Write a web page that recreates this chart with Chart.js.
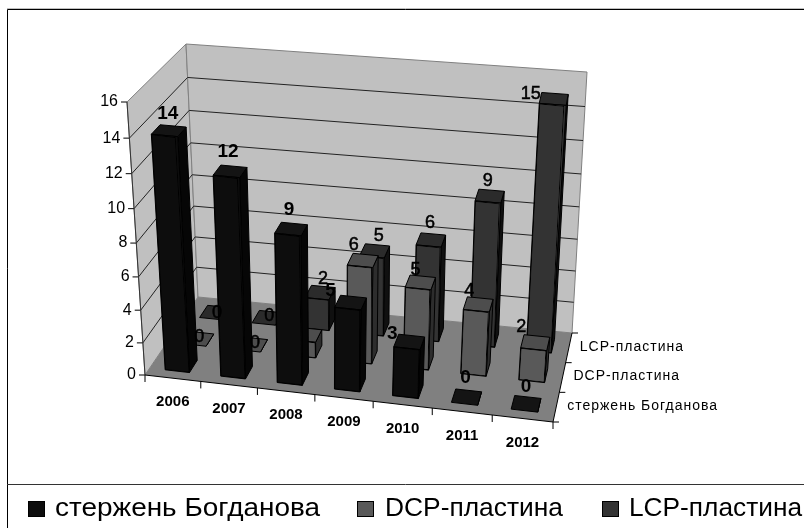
<!DOCTYPE html>
<html>
<head>
<meta charset="utf-8">
<script src="https://cdn.jsdelivr.net/npm/chart.js@4/dist/chart.umd.min.js"></script>
<style>
body { margin: 0; background: #fff; }
canvas { display: block; }
</style>
</head>
<body>
<canvas id="chart" width="804" height="528"></canvas>
<script>
const years = ['2006', '2007', '2008', '2009', '2010', '2011', '2012'];
const seriesNames = ['стержень Богданова', 'DCP-пластина', 'LCP-пластина'];
const rodValues = [14, 12, 9, 5, 3, 0, 0];
const dcpValues = [0, 0, 1, 6, 5, 4, 2];
const lcpValues = [0, 0, 2, 5, 6, 9, 15];
const yTickStep = 2;
const yMax = 16;

const frontColors = ['#0d0d0d', '#595959', '#333333'];
const topColors = ['#141414', '#4d4d4d', '#2b2b2b'];
const sideColors = ['#060606', '#2d2d2d', '#101010'];

// corners of the 3D box on the page: floor / top, front / back, left / right
const box = {
    floorFront: [[145, 375], [553, 422]],
    topFront: [[127, 102], [577, 142]],
    floorBack: [[198, 297], [572, 333]],
    topBack: [[186, 44], [587, 72]]
};
const barDepth = 0.155;
// perspective squeezes the low end of the value axis and the early years
const heightBend = 0.067;
const widthBend = 0.05;

// label tweaks per series and year, Excel does not place them evenly
// null: label lost behind the black 2008 bar in the original
const labelNudges = [
    [[-1, -2], [-2, -5], [-2, -4], [-20, 3], [-17, 7], [-1, -4], [0, -2]],
    [[1, 13], [3, 13], null, [-9, 0], [-5, 3], [-9, 2], [-14, -1]],
    [[2, 15], [2, 13], [3, 1], [4, 0], [-1, -2], [-2, 0], [-23, 10]]
];
// legend squares, text start and text width
const legendSquares = [28, 357, 602];
const legendTexts = [55, 385, 629];
const legendWidths = [265, 178, 173];

function mix(a, b, k) {
    return [a[0] + (b[0] - a[0]) * k, a[1] + (b[1] - a[1]) * k];
}

// u: along the years, v: up the value axis, t: front to back
function project(u, v, t) {
    const w = u - widthBend * u * (1 - u);
    const floor = mix(mix(box.floorFront[0], box.floorFront[1], w), mix(box.floorBack[0], box.floorBack[1], w), t);
    const top = mix(mix(box.topFront[0], box.topFront[1], w), mix(box.topBack[0], box.topBack[1], w), t);
    return mix(floor, top, v - heightBend * v * (1 - v));
}

function uOf(chart, px) {
    const a = chart.chartArea;
    return (px - a.left) / (a.right - a.left);
}

function vOf(chart, py) {
    const a = chart.chartArea;
    return (a.bottom - py) / (a.bottom - a.top);
}

function poly(ctx, pts, fill, stroke) {
    ctx.beginPath();
    pts.forEach((p, i) => (i ? ctx.lineTo(p[0], p[1]) : ctx.moveTo(p[0], p[1])));
    ctx.closePath();
    if (fill) {
        ctx.fillStyle = fill;
        ctx.fill();
    }
    if (stroke) {
        ctx.strokeStyle = stroke;
        ctx.lineWidth = 1;
        ctx.stroke();
    }
}

function segment(ctx, a, b, color, width) {
    ctx.beginPath();
    ctx.moveTo(a[0], a[1]);
    ctx.lineTo(b[0], b[1]);
    ctx.strokeStyle = color;
    ctx.lineWidth = width || 1;
    ctx.stroke();
}

class Bar3D extends Chart.BarController {
    draw() {
        const chart = this.chart;
        const ctx = chart.ctx;
        const idx = this.index;
        const t0 = (idx + 0.5) / 3 - barDepth / 2;
        const t1 = t0 + barDepth;
        this.getMeta().data.forEach((el) => {
            const u0 = uOf(chart, el.x - el.width / 2);
            const u1 = uOf(chart, el.x + el.width / 2);
            const vTop = vOf(chart, el.y);
            const vBase = vOf(chart, el.base);
            // right side and top faces
            poly(ctx, [project(u1, vBase, t0), project(u1, vBase, t1), project(u1, vTop, t1), project(u1, vTop, t0)], sideColors[idx], '#000');
            poly(ctx, [project(u0, vTop, t0), project(u1, vTop, t0), project(u1, vTop, t1), project(u0, vTop, t1)], topColors[idx], '#000');
            if (el.base - el.y < 0.5) {
                return;
            }
            // front face: the library's own bar under the local plane transform
            const bl = project(u0, vBase, t0);
            const br = project(u1, vBase, t0);
            const tl = project(u0, vTop, t0);
            const tr = project(u1, vTop, t0);
            // the top of a bar is a bit wider than its foot, fill that wedge first
            poly(ctx, [bl, br, tr, tl], frontColors[idx], '#000');
            const xs = [(br[0] - bl[0]) / el.width, (br[1] - bl[1]) / el.width];
            const h = el.base - el.y;
            const ys = [(bl[0] - tl[0]) / h, (bl[1] - tl[1]) / h];
            const left = el.x - el.width / 2;
            ctx.save();
            ctx.transform(xs[0], xs[1], ys[0], ys[1],
                tl[0] - xs[0] * left - ys[0] * el.y,
                tl[1] - xs[1] * left - ys[1] * el.y);
            el.draw(ctx, chart.chartArea);
            ctx.restore();
        });
    }
}
Bar3D.id = 'bar3d';
Bar3D.defaults = Chart.BarController.defaults;
Chart.register(Bar3D);

const framePlugin = {
    id: 'frame',
    beforeDatasetsDraw(chart) {
        const ctx = chart.ctx;
        const y = chart.scales.y;
        ctx.save();
        // outer frame and legend separator, open on the right and at the bottom
        segment(ctx, [7, 8.5], [804, 8.5], '#c0c0c0');
        segment(ctx, [7.5, 9.5], [804, 9.5], '#000');
        segment(ctx, [7.5, 9.5], [7.5, 528], '#000');
        segment(ctx, [7, 484.5], [804, 484.5], '#333');

        poly(ctx, [project(0, 0, 0), project(0, 1, 0), project(0, 1, 1), project(0, 0, 1)], '#c0c0c0', '#808080');
        poly(ctx, [project(0, 0, 1), project(0, 1, 1), project(1, 1, 1), project(1, 0, 1)], '#c0c0c0', '#808080');
        poly(ctx, [project(0, 0, 0), project(0, 0, 1), project(1, 0, 1), project(1, 0, 0)], '#808080', null);

        // gridlines over both walls, ticks and labels on the value axis
        ctx.font = '16px "Liberation Sans"';
        ctx.textAlign = 'right';
        ctx.textBaseline = 'middle';
        y.ticks.forEach((tick) => {
            const v = vOf(chart, y.getPixelForValue(tick.value));
            const a = project(0, v, 0);
            if (v > 0 && v < 1) {
                segment(ctx, a, project(0, v, 1), '#222');
                segment(ctx, project(0, v, 1), project(1, v, 1), '#222');
            }
            segment(ctx, [a[0] - 6, a[1]], a, '#000');
            ctx.fillStyle = '#000';
            ctx.fillText(tick.label, a[0] - 9, a[1]);
        });
        segment(ctx, project(0, 0, 0), project(0, 1, 0), '#333');

        // year axis
        segment(ctx, project(0, 0, 0), project(1, 0, 0), '#000');
        ctx.font = 'bold 15px "Liberation Sans"';
        ctx.textAlign = 'center';
        years.forEach((year, i) => {
            const p = project(i / years.length, 0, 0);
            segment(ctx, p, [p[0], p[1] + 7], '#000');
            const c = project((i + 0.5) / years.length, 0, 0);
            ctx.fillText(chart.scales.x.getLabelForValue(i), c[0], c[1] + 24);
        });
        const last = project(1, 0, 0);
        segment(ctx, last, [last[0], last[1] + 7], '#000');

        // depth axis
        segment(ctx, project(1, 0, 0), project(1, 0, 1), '#000');
        ctx.font = '14px "Liberation Sans"';
        ctx.textAlign = 'left';
        ctx.letterSpacing = '1px';
        seriesNames.forEach((name, i) => {
            const p = project(1, 0, i / 3);
            segment(ctx, p, [p[0] + 6, p[1]], '#000');
            const c = project(1, 0, (i + 0.5) / 3);
            ctx.fillText(name, c[0] + 11, c[1] - 1);
        });
        const end = project(1, 0, 1);
        segment(ctx, end, [end[0] + 6, end[1]], '#000');
        ctx.letterSpacing = '0px';
        ctx.restore();
    },
    afterDatasetsDraw(chart) {
        const ctx = chart.ctx;
        ctx.save();
        ctx.fillStyle = '#000';
        ctx.strokeStyle = '#000';
        ctx.textAlign = 'center';
        ctx.textBaseline = 'middle';
        chart.data.datasets.forEach((ds, idx) => {
            ctx.font = (idx === 0 ? 'bold 19px' : '18px') + ' "Liberation Sans"';
            ctx.lineWidth = 0.5;
            chart.getDatasetMeta(idx).data.forEach((el, i) => {
                const n = labelNudges[idx][i];
                if (!n) {
                    return;
                }
                const p = project(uOf(chart, el.x), vOf(chart, el.y), (idx + 0.5) / 3);
                ctx.fillText(String(ds.data[i]), p[0] + n[0], p[1] - 15 + n[1]);
                if (idx > 0) {
                    ctx.strokeText(String(ds.data[i]), p[0] + n[0], p[1] - 15 + n[1]);
                }
            });
        });

        // legend row
        ctx.textAlign = 'left';
        ctx.textBaseline = 'alphabetic';
        ctx.font = '25px "Liberation Sans"';
        ctx.lineWidth = 1;
        seriesNames.forEach((name, i) => {
            ctx.fillStyle = frontColors[i];
            ctx.fillRect(legendSquares[i] + 0.5, 501.5, 16, 15);
            ctx.strokeRect(legendSquares[i] + 0.5, 501.5, 16, 15);
            ctx.save();
            ctx.translate(legendTexts[i], 516);
            ctx.scale(legendWidths[i] / ctx.measureText(name).width, 1);
            ctx.fillStyle = '#000';
            ctx.fillText(name, 0, 0);
            ctx.restore();
        });
        ctx.restore();
    }
};

const barOptions = {
    type: 'bar3d',
    grouped: false,
    barPercentage: 0.44,
    categoryPercentage: 1,
    borderWidth: 1,
    borderColor: '#000',
    borderSkipped: false,
    inflateAmount: 0,
    clip: false
};

new Chart(document.getElementById('chart').getContext('2d'), {
    type: 'bar3d',
    data: {
        labels: years,
        datasets: [
            { ...barOptions, label: seriesNames[0], data: rodValues, backgroundColor: frontColors[0] },
            { ...barOptions, label: seriesNames[1], data: dcpValues, backgroundColor: frontColors[1] },
            { ...barOptions, label: seriesNames[2], data: lcpValues, backgroundColor: frontColors[2] }
        ]
    },
    options: {
        responsive: false,
        animation: false,
        layout: { padding: { left: 145, right: 251, top: 102, bottom: 153 } },
        scales: {
            x: { display: false, offset: true, grid: { display: false } },
            y: { display: false, min: 0, max: yMax, ticks: { stepSize: yTickStep } }
        },
        plugins: {
            tooltip: { enabled: false },
            legend: { display: false }
        }
    },
    plugins: [framePlugin]
});
</script>
</body>
</html>
